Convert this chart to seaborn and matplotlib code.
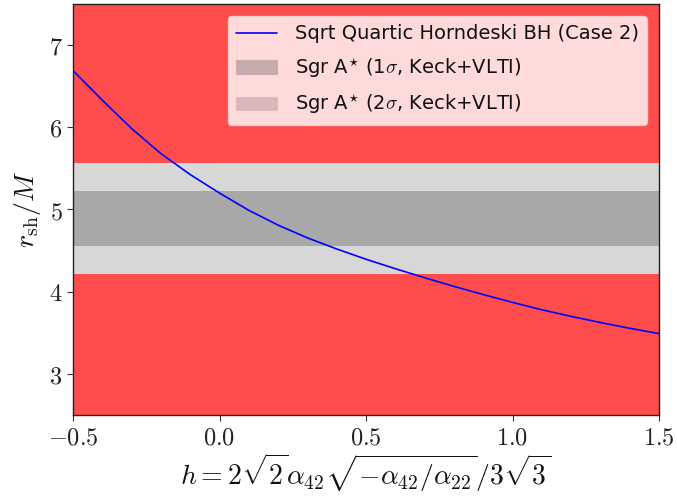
import numpy as np
import pandas as pd
import matplotlib
matplotlib.use("Agg")
import matplotlib.pyplot as plt
import seaborn as sns
from matplotlib.ticker import FuncFormatter
from matplotlib.patches import Patch
from matplotlib.lines import Line2D

# ---- data ----
h_values = [-0.5, -0.4, -0.3, -0.2, -0.1, 0.0, 0.1, 0.2, 0.3, 0.4, 0.5,
            0.6, 0.7, 0.8, 0.9, 1.0, 1.1, 1.2, 1.3, 1.4, 1.5]
rsh_values = [6.69, 6.33, 5.985, 5.68, 5.425, 5.20, 4.99, 4.81, 4.655, 4.52, 4.395,
              4.28, 4.17, 4.065, 3.965, 3.87, 3.78, 3.70, 3.625, 3.555, 3.49]
sigma1 = [4.55, 5.22]
sigma2 = [4.21, 5.56]
x_range = [-0.5, 1.5]
y_range = [2.5, 7.5]
x_ticks = [-0.5, 0.0, 0.5, 1.0, 1.5]
y_ticks = [3, 4, 5, 6, 7]
curve_label = "Sqrt Quartic Horndeski BH (Case 2)"
band1_label = r"Sgr A$^{\star}$ (1$\sigma$, Keck+VLTI)"
band2_label = r"Sgr A$^{\star}$ (2$\sigma$, Keck+VLTI)"

sns.set_style("ticks")
plt.rcParams["font.family"] = ["DejaVu Sans"]
plt.rcParams["mathtext.fontset"] = "cm"
plt.rcParams["text.color"] = "#111111"
plt.rcParams["axes.labelcolor"] = "#111111"
plt.rcParams["xtick.labelcolor"] = "#222222"
plt.rcParams["ytick.labelcolor"] = "#222222"

fig = plt.figure(figsize=(6.77, 4.98), dpi=100)
ax = fig.add_axes([73/677, 1-415/498, (659-73)/677, (415-4)/498])

# excluded (red) regions
ax.fill_between(x_range, [y_range[0]]*2, [sigma2[0]]*2, color="red", alpha=0.7, lw=0)
ax.fill_between(x_range, [sigma2[1]]*2, [y_range[1]]*2, color="red", alpha=0.7, lw=0)
# bands
ax.fill_between(x_range, [sigma2[0]]*2, [sigma2[1]]*2, color="k", alpha=0.155, lw=0)
ax.fill_between(x_range, [sigma1[0]]*2, [sigma1[1]]*2, color="k", alpha=0.215, lw=0)

df = pd.DataFrame({"h": h_values, "rsh": rsh_values})
sns.lineplot(data=df, x="h", y="rsh", ax=ax, color="blue", lw=1.2, zorder=5)

ax.set_xlim(*x_range)
ax.set_ylim(*y_range)
ax.set_xticks(x_ticks)
ax.set_yticks(y_ticks)
ax.xaxis.set_major_formatter(FuncFormatter(lambda v, p: r"$%.1f$" % v))
ax.yaxis.set_major_formatter(FuncFormatter(lambda v, p: r"$%d$" % v))
ax.tick_params(labelsize=17.5, length=4, width=0.8, color="#333333")
for s in ax.spines.values():
    s.set_linewidth(1.0)
    s.set_color("#222222")

ax.set_xlabel(r"$h=2\sqrt{2}\alpha_{42}\sqrt{-\alpha_{42}/\alpha_{22}}/3\sqrt{3}$",
              fontsize=20, labelpad=1)
ax.set_ylabel(r"$r_{\rm sh}/M$", fontsize=20, labelpad=4)

handles = [Line2D([], [], color="blue", lw=1.2),
           Patch(facecolor=(0, 0, 0, 0.215), edgecolor=(0, 0, 0, 0.1)),
           Patch(facecolor=(0, 0, 0, 0.155), edgecolor=(0, 0, 0, 0.05))]
leg = ax.legend(handles, [curve_label, band1_label, band2_label],
                loc="upper right", fontsize=14, framealpha=0.8,
                edgecolor="#dddddd", fancybox=True,
                borderpad=0.45, labelspacing=0.65, handlelength=2.1,
                handletextpad=0.9, borderaxespad=0.6)

fig.savefig("out.png", dpi=100)
